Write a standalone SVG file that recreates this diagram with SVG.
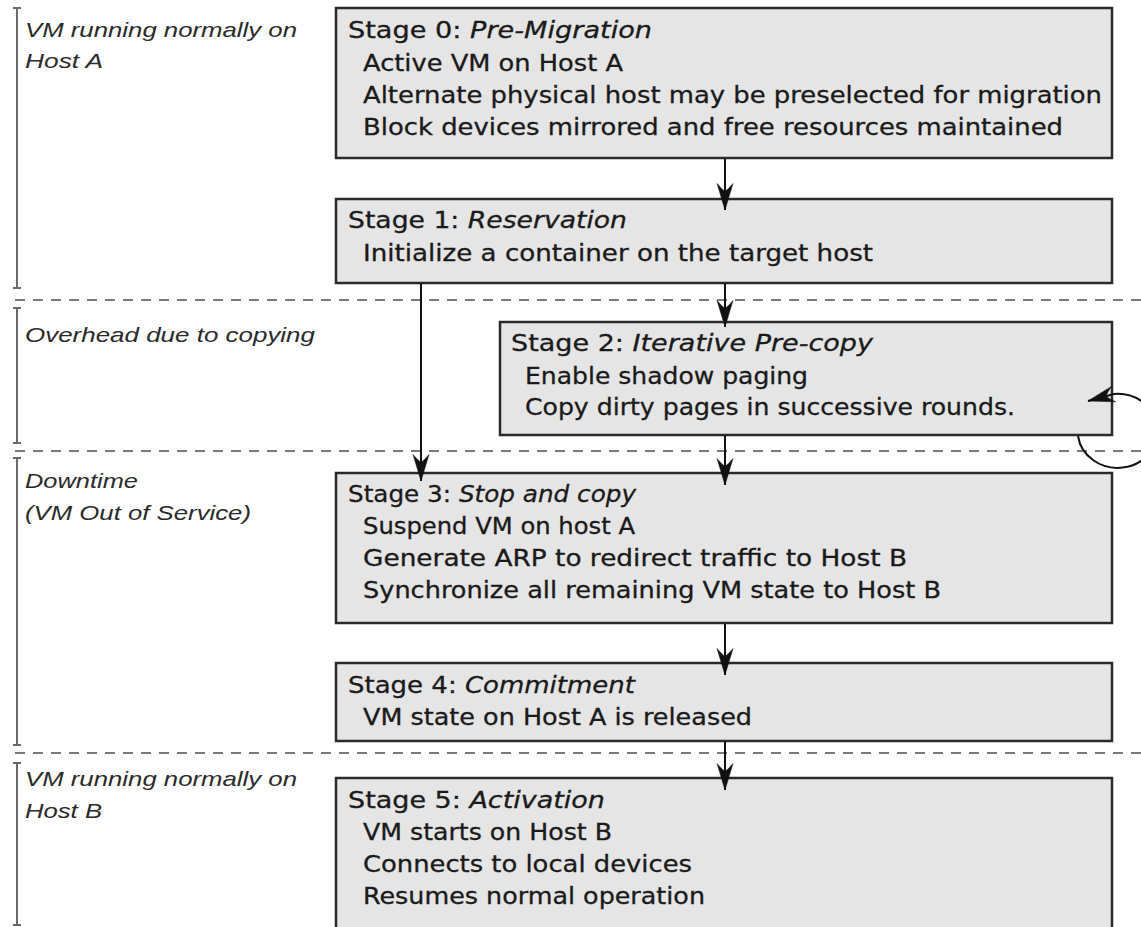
<svg xmlns="http://www.w3.org/2000/svg" width="1141" height="927" viewBox="0 0 1141 927">
<style>
.box{fill:#e5e5e5;stroke:#2a2a2a;stroke-width:2.5}
.t{font-family:"DejaVu Sans",Verdana,sans-serif;font-size:23px;fill:#1a1a1a;stroke:#1a1a1a;stroke-width:0.3}
.ti{font-style:italic}
.lbl{font-family:"Liberation Sans",Arial,sans-serif;font-style:italic;font-size:21px;fill:#2a2a2a}
.dash{stroke:#7a7a7a;stroke-width:2;stroke-dasharray:10 8;fill:none}
.br{stroke:#6a6a6a;stroke-width:2;fill:none}
.ar{stroke:#111;stroke-width:2;fill:none}
.head{fill:#111;stroke:#111;stroke-width:0.5;stroke-linejoin:miter}
</style>
<defs>
<marker id="ah" viewBox="0 0 28 18" refX="27.5" refY="9" markerWidth="28" markerHeight="18" markerUnits="userSpaceOnUse" orient="auto">
<path class="head" d="M27.5,9 L1,1 Q6,5 9,9 Q6,13 1,17 Z"/>
</marker>
</defs>
<rect width="1141" height="927" fill="#fff"/>
<g id="phases">
<line class="dash" x1="15" y1="300" x2="1141" y2="300"/>
<line class="dash" x1="15" y1="451" x2="1141" y2="451"/>
<line class="dash" x1="15" y1="753" x2="1141" y2="753"/>
<path class="br" d="M17,8 V288 M13,8 H21 M13,288 H21"/>
<path class="br" d="M17,308 V443 M13,308 H21 M13,443 H21"/>
<path class="br" d="M17,458 V745 M13,458 H21 M13,745 H21"/>
<path class="br" d="M17,763 V925 M13,763 H21 M13,925 H21"/>
<text class="lbl" x="25" y="37" textLength="272" lengthAdjust="spacingAndGlyphs">VM running normally on</text>
<text class="lbl" x="25" y="68" textLength="78" lengthAdjust="spacingAndGlyphs">Host A</text>
<text class="lbl" x="25" y="342" textLength="290" lengthAdjust="spacingAndGlyphs">Overhead due to copying</text>
<text class="lbl" x="25" y="488" textLength="113" lengthAdjust="spacingAndGlyphs">Downtime</text>
<text class="lbl" x="25" y="520" textLength="226" lengthAdjust="spacingAndGlyphs">(VM Out of Service)</text>
<text class="lbl" x="25" y="786" textLength="272" lengthAdjust="spacingAndGlyphs">VM running normally on</text>
<text class="lbl" x="25" y="818" textLength="77" lengthAdjust="spacingAndGlyphs">Host B</text>
</g>
<g id="stage0">
<rect class="box" x="336" y="8" width="776" height="150"/>
<text class="t" x="348" y="38" textLength="304" lengthAdjust="spacingAndGlyphs">Stage 0: <tspan class="ti">Pre-Migration</tspan></text>
<text class="t" x="363" y="71" textLength="260" lengthAdjust="spacingAndGlyphs">Active VM on Host A</text>
<text class="t" x="363" y="103" textLength="739" lengthAdjust="spacingAndGlyphs">Alternate physical host may be preselected for migration</text>
<text class="t" x="363" y="135" textLength="700" lengthAdjust="spacingAndGlyphs">Block devices mirrored and free resources maintained</text>
</g>
<g id="stage1">
<rect class="box" x="336" y="199" width="776" height="84"/>
<text class="t" x="348" y="228" textLength="279" lengthAdjust="spacingAndGlyphs">Stage 1: <tspan class="ti">Reservation</tspan></text>
<text class="t" x="363" y="261" textLength="510" lengthAdjust="spacingAndGlyphs">Initialize a container on the target host</text>
</g>
<g id="stage2">
<rect class="box" x="500" y="322" width="612" height="113"/>
<text class="t" x="511" y="351" textLength="362" lengthAdjust="spacingAndGlyphs">Stage 2: <tspan class="ti">Iterative Pre-copy</tspan></text>
<text class="t" x="525" y="384" textLength="283" lengthAdjust="spacingAndGlyphs">Enable shadow paging</text>
<text class="t" x="525" y="415" textLength="490" lengthAdjust="spacingAndGlyphs">Copy dirty pages in successive rounds.</text>
</g>
<g id="stage3">
<rect class="box" x="336" y="473" width="776" height="150"/>
<text class="t" x="348" y="502" textLength="288" lengthAdjust="spacingAndGlyphs">Stage 3: <tspan class="ti">Stop and copy</tspan></text>
<text class="t" x="363" y="534" textLength="272" lengthAdjust="spacingAndGlyphs">Suspend VM on host A</text>
<text class="t" x="363" y="566" textLength="544" lengthAdjust="spacingAndGlyphs">Generate ARP to redirect traffic to Host B</text>
<text class="t" x="363" y="598" textLength="578" lengthAdjust="spacingAndGlyphs">Synchronize all remaining VM state to Host B</text>
</g>
<g id="stage4">
<rect class="box" x="336" y="663" width="776" height="78"/>
<text class="t" x="348" y="693" textLength="287" lengthAdjust="spacingAndGlyphs">Stage 4: <tspan class="ti">Commitment</tspan></text>
<text class="t" x="363" y="725" textLength="389" lengthAdjust="spacingAndGlyphs">VM state on Host A is released</text>
</g>
<g id="stage5">
<rect class="box" x="336" y="778" width="776" height="160"/>
<text class="t" x="348" y="808" textLength="257" lengthAdjust="spacingAndGlyphs">Stage 5: <tspan class="ti">Activation</tspan></text>
<text class="t" x="363" y="840" textLength="249" lengthAdjust="spacingAndGlyphs">VM starts on Host B</text>
<text class="t" x="363" y="872" textLength="329" lengthAdjust="spacingAndGlyphs">Connects to local devices</text>
<text class="t" x="363" y="904" textLength="342" lengthAdjust="spacingAndGlyphs">Resumes normal operation</text>
</g>
<g id="connectors">
<line class="ar" x1="725" y1="159" x2="725" y2="210" marker-end="url(#ah)"/>
<line class="ar" x1="725" y1="284" x2="725" y2="327" marker-end="url(#ah)"/>
<line class="ar" x1="421" y1="284" x2="421" y2="481" marker-end="url(#ah)"/>
<line class="ar" x1="725" y1="436" x2="725" y2="485" marker-end="url(#ah)"/>
<line class="ar" x1="725" y1="624" x2="725" y2="675" marker-end="url(#ah)"/>
<line class="ar" x1="725" y1="742" x2="725" y2="790" marker-end="url(#ah)"/>
<path class="ar" d="M1078,436 A40,37 0 1 0 1114,394 L1088,401" marker-end="url(#ah)"/>
</g>
</svg>
